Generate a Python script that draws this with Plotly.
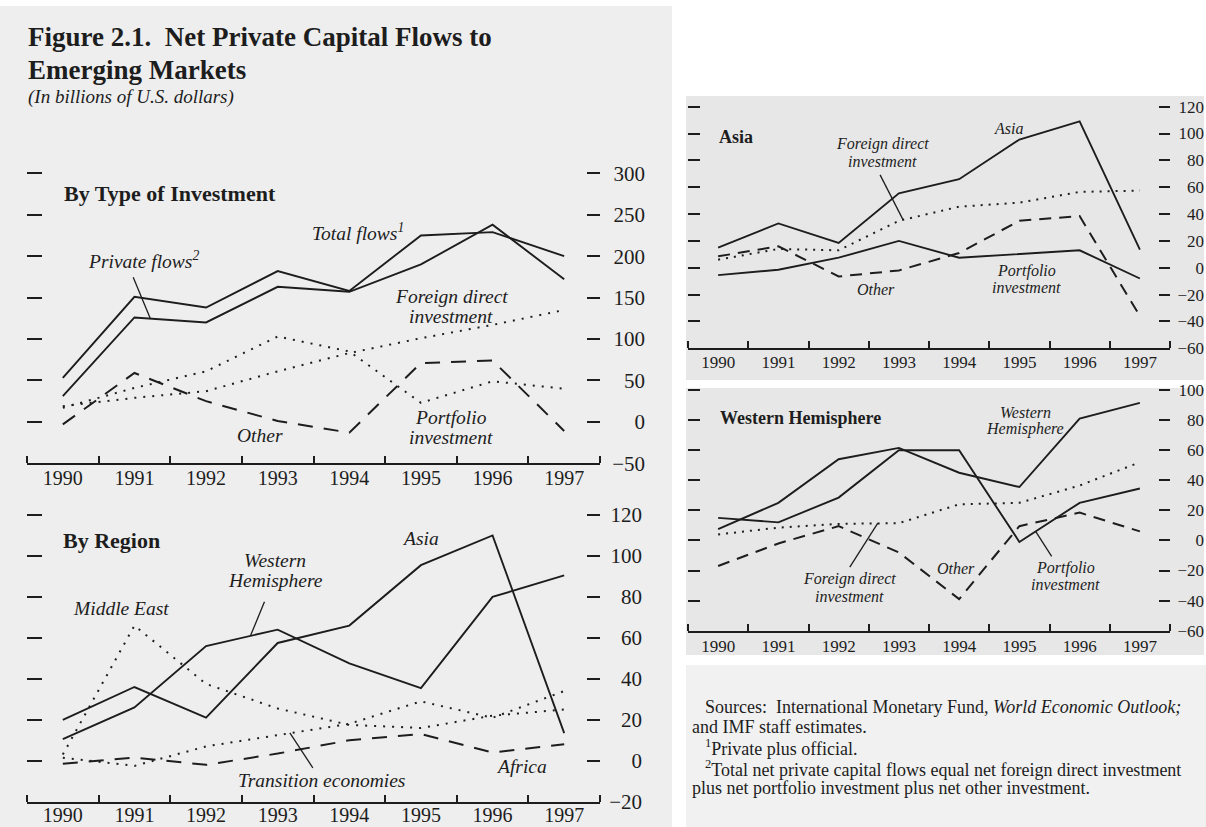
import plotly.graph_objects as go

W, H = 1206, 827
INK = "#1d1d1d"
SERIF = "Liberation Serif, Times New Roman, serif"

# ---- data (billions of U.S. dollars) ----
years = [1990, 1991, 1992, 1993, 1994, 1995, 1996, 1997]
year_labels = ["1990", "1991", "1992", "1993", "1994", "1995", "1996", "1997"]
half_years = [1989.5, 1990.5, 1991.5, 1992.5, 1993.5, 1994.5, 1995.5, 1996.5, 1997.5]

# By type of investment
total_flows = [53, 151, 138, 182, 158, 225, 229, 200]
private_flows = [31, 126, 120, 163, 157, 190, 238, 172]
foreign_direct = [19, 29, 37, 61, 83, 101, 117, 135]
portfolio = [17, 41, 61, 103, 85, 23, 49, 40]
other = [-3, 59, 25, 1, -13, 71, 74, -11]

# By region
asia = [20, 36, 21, 57.5, 66, 95.5, 110, 13.5]
western_hemisphere = [10.5, 26, 56, 64, 47.5, 35.5, 80, 90.5]
middle_east = [3, 66, 37.5, 25.5, 17.5, 16, 22, 25]
transition = [1.5, -2.5, 7, 12.5, 18, 29, 21, 34]
africa = [-1.5, 1.5, -2, 3.5, 10, 13, 4, 8]

# Asia detail
asia_total = [15, 33, 18.5, 55.5, 66, 95.5, 109, 13.5]
asia_fdi = [6, 14, 13, 35, 45.5, 48.5, 56.5, 57.5]
asia_portfolio = [-5.5, -1.5, 7.5, 20, 7.5, 10, 13, -8]
asia_other = [8.5, 16, -6.5, -2, 11, 35, 38.5, -36]

# Western Hemisphere detail
wh_total = [7.5, 25, 54, 61.5, 45, 35.5, 81, 91.5]
wh_fdi = [4, 8.5, 11, 11.5, 24, 25, 36.5, 52]
wh_portfolio = [15, 12, 28.5, 60, 60, -1, 25, 34.5]
wh_other = [-17, -2, 9.5, -8, -39, 9.5, 18.5, 6]

# tick values and labels
type_ticks = [-50, 0, 50, 100, 150, 200, 250, 300]
type_tick_text = ["\u221250", "0", "50", "100", "150", "200", "250", "300"]
region_ticks = [-20, 0, 20, 40, 60, 80, 100, 120]
region_tick_text = ["\u221220", "0", "20", "40", "60", "80", "100", "120"]
asia_ticks = [-60, -40, -20, 0, 20, 40, 60, 80, 100, 120]
asia_tick_text = ["\u221260", "\u221240", "\u221220", "0", "20", "40", "60", "80", "100", "120"]
wh_ticks = [-60, -40, -20, 0, 20, 40, 60, 80, 100]
wh_tick_text = ["\u221260", "\u221240", "\u221220", "0", "20", "40", "60", "80", "100"]


def fx(p):
    return p / W


def fy(p):
    return 1 - p / H


# panel geometry in pixels: left, right, top, bottom, label edge; the value range
# is padded a little at the top so the top tick dash is not clipped away
panels = [
    dict(l=27, r=600, t=170.8, b=463.3, lab=645, yr=[-50, 303], tv=type_ticks, tt=type_tick_text,
         lt=15, rt=13, tfs=21, yfs=20, so=-4),
    dict(l=27, r=600, t=511.9, b=801.7, lab=642, yr=[-20, 121.5], tv=region_ticks, tt=region_tick_text,
         lt=15, rt=13, tfs=21, yfs=20, so=-6),
    dict(l=688, r=1170, t=104.0, b=348.3, lab=1204, yr=[-60, 122], tv=asia_ticks, tt=asia_tick_text,
         lt=12, rt=11, tfs=17, yfs=17, so=-3),
    dict(l=688, r=1170, t=387.0, b=630.7, lab=1204, yr=[-60, 102], tv=wh_ticks, tt=wh_tick_text,
         lt=12, rt=11, tfs=17, yfs=17, so=-1),
]

fig = go.Figure()

SOLID = "solid"
DOT_L = "2px,7px"
DASH_L = "15px,11px"
DOT_R = "2px,6px"
DASH_R = "12px,8px"

series = [
    (1, total_flows, SOLID), (1, private_flows, SOLID), (1, foreign_direct, DOT_L),
    (1, portfolio, DOT_L), (1, other, DASH_L),
    (2, asia, SOLID), (2, western_hemisphere, SOLID), (2, middle_east, DOT_L),
    (2, transition, DOT_L), (2, africa, DASH_L),
    (3, asia_total, SOLID), (3, asia_fdi, DOT_R), (3, asia_portfolio, SOLID), (3, asia_other, DASH_R),
    (4, wh_total, SOLID), (4, wh_fdi, DOT_R), (4, wh_portfolio, SOLID), (4, wh_other, DASH_R),
]
for idx, vals, dash in series:
    fig.add_trace(go.Scatter(
        x=years, y=vals, mode="lines",
        line=dict(color=INK, width=2 if dash != SOLID else 1.9, dash=dash),
        xaxis="x" if idx == 1 else f"x{idx}",
        yaxis="y" if idx == 1 else f"y{idx}",
        showlegend=False, hoverinfo="skip",
    ))

layout_axes = {}
for i, p in enumerate(panels, start=1):
    xs = "" if i == 1 else str(i)
    ybase = "y" if i == 1 else f"y{i}"
    dom_x = [fx(p["l"]), fx(p["r"])]
    dom_y = [fy(p["b"]), fy(p["t"])]
    layout_axes[f"xaxis{xs}"] = dict(
        domain=dom_x, range=[1989.5, 1997.5], anchor=ybase, automargin=False,
        tickvals=years, ticktext=year_labels, ticks="", ticklabelstandoff=p["so"],
        minor=dict(tickvals=half_years, ticks="inside", ticklen=7, tickwidth=1.5, tickcolor=INK),
        showline=True, linecolor=INK, linewidth=2, showgrid=False, zeroline=False,
        tickfont=dict(family=SERIF, size=p["yfs"], color=INK), fixedrange=True,
    )
    # left-hand tick dashes
    layout_axes[f"yaxis{xs}"] = dict(
        domain=dom_y, range=p["yr"], anchor=f"x{xs}", side="left", automargin=False,
        tickvals=p["tv"], ticks="inside", ticklen=p["lt"], tickwidth=2, tickcolor=INK,
        showticklabels=False, showline=False, showgrid=False, zeroline=False, fixedrange=True,
    )
    # right-hand tick dashes
    layout_axes[f"yaxis{i + 4}"] = dict(
        range=p["yr"], overlaying=ybase, anchor=f"x{xs}", side="right", automargin=False,
        tickvals=p["tv"], ticks="inside", ticklen=p["rt"], tickwidth=2, tickcolor=INK,
        showticklabels=False, showline=False, showgrid=False, zeroline=False, fixedrange=True,
    )
    # right-aligned value labels
    layout_axes[f"yaxis{i + 8}"] = dict(
        range=p["yr"], overlaying=ybase, anchor="free", position=fx(p["lab"]), side="left",
        automargin=False, tickvals=p["tv"], ticktext=p["tt"], ticks="",
        showline=False, showgrid=False, zeroline=False, fixedrange=True,
        tickfont=dict(family=SERIF, size=p["tfs"], color=INK),
    )
    # empty traces so the overlay axes are drawn
    for extra in (i + 4, i + 8):
        fig.add_trace(go.Scatter(
            x=[None], y=[None], mode="lines", xaxis=f"x{xs}", yaxis=f"y{extra}",
            showlegend=False, hoverinfo="skip",
        ))


def txt(s, x, y, size, italic=False, bold=False, anchor="center"):
    if bold:
        s = f"<b>{s}</b>"
    if italic:
        s = f"<i>{s}</i>"
    return dict(text=s, x=fx(x), y=fy(y), xref="paper", yref="paper",
                xanchor=anchor, yanchor="middle", showarrow=False,
                font=dict(family=SERIF, size=size, color=INK))


def pointer(xa, ya, px_dx, px_dy, axis_idx):
    """Leader line from a point on a series out to its label (offset in pixels)."""
    xs = "" if axis_idx == 1 else str(axis_idx)
    return dict(type="line", xref=f"x{xs}", yref=f"y{xs}",
                xsizemode="pixel", ysizemode="pixel", xanchor=xa, yanchor=ya,
                x0=0, y0=0, x1=px_dx, y1=-px_dy,
                line=dict(color=INK, width=1.3), layer="above")


annotations = [
    txt("Figure 2.1.  Net Private Capital Flows to", 26, 37, 27, bold=True, anchor="left"),
    txt("Emerging Markets", 26, 70, 27, bold=True, anchor="left"),
    txt("(In billions of U.S. dollars)", 26, 97, 19, italic=True, anchor="left"),

    # By type of investment
    txt("By Type of Investment", 62, 193, 22, bold=True, anchor="left"),
    txt("Total flows<sup>1</sup>", 358, 232, 19.5, italic=True),
    txt("Private flows<sup>2</sup>", 143, 260, 19.5, italic=True),
    txt("Foreign direct", 451, 296, 19.5, italic=True),
    txt("investment", 451, 316, 19.5, italic=True),
    txt("Portfolio", 451, 417, 19.5, italic=True),
    txt("investment", 451, 437, 19.5, italic=True),
    txt("Other", 260, 435, 19.5, italic=True),

    # By region
    txt("By Region", 61, 540, 22, bold=True, anchor="left"),
    txt("Asia", 420, 538, 19.5, italic=True),
    txt("Western", 275, 560, 19.5, italic=True),
    txt("Hemisphere", 275, 580, 19.5, italic=True),
    txt("Middle East", 121, 608, 19.5, italic=True),
    txt("Transition economies", 321, 780, 19.5, italic=True),
    txt("Africa", 521, 766, 19.5, italic=True),

    # Asia
    txt("Asia", 717, 137, 18, bold=True, anchor="left"),
    txt("Asia", 1008, 129, 16, italic=True),
    txt("Foreign direct", 882, 144, 16, italic=True),
    txt("investment", 882, 161, 16, italic=True),
    txt("Other", 876, 289, 16, italic=True),
    txt("Portfolio", 1026, 271, 16, italic=True),
    txt("investment", 1026, 287, 16, italic=True),

    # Western Hemisphere
    txt("Western Hemisphere", 718, 418, 18, bold=True, anchor="left"),
    txt("Western", 1025, 412, 16, italic=True),
    txt("Hemisphere", 1025, 429, 16, italic=True),
    txt("Other", 956, 568, 16, italic=True),
    txt("Foreign direct", 849, 579, 16, italic=True),
    txt("investment", 849, 596, 16, italic=True),
    txt("Portfolio", 1065, 568, 16, italic=True),
    txt("investment", 1065, 584, 16, italic=True),

    # notes
    txt("Sources:  International Monetary Fund, <i>World Economic Outlook;</i>", 703, 707, 18, anchor="left"),
    txt("and IMF staff estimates.", 690, 727, 18, anchor="left"),
    txt("<sup>1</sup>Private plus official.", 703, 747, 18, anchor="left"),
    txt("<sup>2</sup>Total net private capital flows equal net foreign direct investment", 703, 768, 18, anchor="left"),
    txt("plus net portfolio investment plus net other investment.", 690, 788, 18, anchor="left"),
]

shapes = [
    dict(type="rect", xref="paper", yref="paper", x0=0, x1=fx(672), y0=0, y1=fy(6),
         fillcolor="#eeeeee", line=dict(width=0), layer="below"),
    dict(type="rect", xref="paper", yref="paper", x0=fx(686), x1=fx(1204), y0=fy(380), y1=fy(96),
         fillcolor="#e7e7e7", line=dict(width=0), layer="below"),
    dict(type="rect", xref="paper", yref="paper", x0=fx(686), x1=fx(1204), y0=fy(655), y1=fy(388),
         fillcolor="#e7e7e7", line=dict(width=0), layer="below"),
    dict(type="rect", xref="paper", yref="paper", x0=fx(686), x1=1, y0=0, y1=fy(665),
         fillcolor="#f1f1f1", line=dict(width=0), layer="below"),
    pointer(1991.22, 125, -17, -41, 1),
    pointer(1992.62, 61, 14, -34, 2),
    pointer(1993.17, 13.6, 23, 35, 2),
    pointer(1993.07, 35.7, -23, -45, 3),
    pointer(1992.65, 11.5, -28, 44, 4),
    pointer(1995.27, 6, 16, 25, 4),
]

fig.update_layout(
    width=W, height=H,
    margin=dict(l=0, r=0, t=0, b=0, autoexpand=False),
    paper_bgcolor="#ffffff", plot_bgcolor="rgba(0,0,0,0)",
    font=dict(family=SERIF, color=INK),
    annotations=annotations, shapes=shapes,
    showlegend=False,
    **layout_axes,
)

fig.write_html("out.html", config={"displayModeBar": False})
